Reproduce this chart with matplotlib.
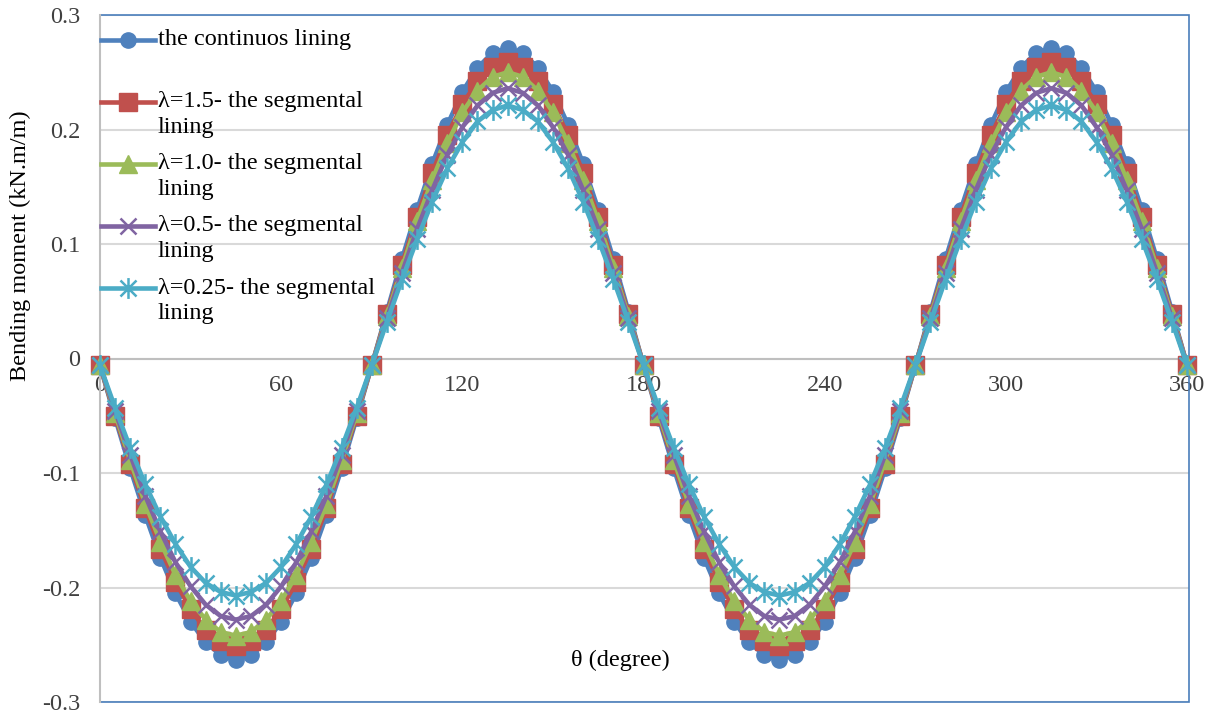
import numpy as np
import matplotlib
matplotlib.use('Agg')
import matplotlib.pyplot as plt
from matplotlib.path import Path
from matplotlib.lines import Line2D
from matplotlib.patches import Rectangle

# angle in degrees, one point every 5 degrees
theta = np.arange(0, 365, 5)

continuous = [-0.006, -0.052, -0.096, -0.137, -0.174, -0.205, -0.230, -0.248, -0.259, -0.263,
              -0.259, -0.248, -0.230, -0.205, -0.174, -0.137, -0.096, -0.052, -0.006,
              0.041, 0.087, 0.130, 0.170, 0.204, 0.233, 0.254, 0.267, 0.271,
              0.267, 0.254, 0.233, 0.204, 0.170, 0.130, 0.087, 0.041, -0.006,
              -0.052, -0.096, -0.137, -0.174, -0.205, -0.230, -0.248, -0.259, -0.263,
              -0.259, -0.248, -0.230, -0.205, -0.174, -0.137, -0.096, -0.052, -0.006,
              0.041, 0.087, 0.130, 0.170, 0.204, 0.233, 0.254, 0.267, 0.271,
              0.267, 0.254, 0.233, 0.204, 0.170, 0.130, 0.087, 0.041, -0.006]

seg_15 = [-0.006, -0.050, -0.092, -0.131, -0.166, -0.195, -0.219, -0.237, -0.247, -0.251,
          -0.247, -0.237, -0.219, -0.195, -0.166, -0.131, -0.092, -0.050, -0.006,
          0.039, 0.082, 0.124, 0.162, 0.195, 0.222, 0.242, 0.255, 0.259,
          0.255, 0.242, 0.222, 0.195, 0.162, 0.124, 0.082, 0.039, -0.006,
          -0.050, -0.092, -0.131, -0.166, -0.195, -0.219, -0.237, -0.247, -0.251,
          -0.247, -0.237, -0.219, -0.195, -0.166, -0.131, -0.092, -0.050, -0.006,
          0.039, 0.082, 0.124, 0.162, 0.195, 0.222, 0.242, 0.255, 0.259,
          0.255, 0.242, 0.222, 0.195, 0.162, 0.124, 0.082, 0.039, -0.006]

seg_10 = [-0.006, -0.048, -0.089, -0.127, -0.160, -0.189, -0.212, -0.228, -0.239, -0.242,
          -0.239, -0.228, -0.212, -0.189, -0.160, -0.127, -0.089, -0.048, -0.006,
          0.037, 0.079, 0.120, 0.156, 0.188, 0.215, 0.234, 0.246, 0.250,
          0.246, 0.234, 0.215, 0.188, 0.156, 0.120, 0.079, 0.037, -0.006,
          -0.048, -0.089, -0.127, -0.160, -0.189, -0.212, -0.228, -0.239, -0.242,
          -0.239, -0.228, -0.212, -0.189, -0.160, -0.127, -0.089, -0.048, -0.006,
          0.037, 0.079, 0.120, 0.156, 0.188, 0.215, 0.234, 0.246, 0.250,
          0.246, 0.234, 0.215, 0.188, 0.156, 0.120, 0.079, 0.037, -0.006]

seg_05 = [-0.006, -0.046, -0.084, -0.120, -0.151, -0.178, -0.199, -0.215, -0.225, -0.228,
          -0.225, -0.215, -0.199, -0.178, -0.151, -0.120, -0.084, -0.046, -0.006,
          0.035, 0.075, 0.113, 0.147, 0.178, 0.202, 0.221, 0.232, 0.236,
          0.232, 0.221, 0.202, 0.178, 0.147, 0.113, 0.075, 0.035, -0.006,
          -0.046, -0.084, -0.120, -0.151, -0.178, -0.199, -0.215, -0.225, -0.228,
          -0.225, -0.215, -0.199, -0.178, -0.151, -0.120, -0.084, -0.046, -0.006,
          0.035, 0.075, 0.113, 0.147, 0.178, 0.202, 0.221, 0.232, 0.236,
          0.232, 0.221, 0.202, 0.178, 0.147, 0.113, 0.075, 0.035, -0.006]

seg_025 = [-0.006, -0.043, -0.078, -0.110, -0.138, -0.162, -0.182, -0.196, -0.204, -0.207,
           -0.204, -0.196, -0.182, -0.162, -0.138, -0.110, -0.078, -0.043, -0.006,
           0.032, 0.069, 0.104, 0.137, 0.166, 0.189, 0.207, 0.217, 0.221,
           0.217, 0.207, 0.189, 0.166, 0.137, 0.104, 0.069, 0.032, -0.006,
           -0.043, -0.078, -0.110, -0.138, -0.162, -0.182, -0.196, -0.204, -0.207,
           -0.204, -0.196, -0.182, -0.162, -0.138, -0.110, -0.078, -0.043, -0.006,
           0.032, 0.069, 0.104, 0.137, 0.166, 0.189, 0.207, 0.217, 0.221,
           0.217, 0.207, 0.189, 0.166, 0.137, 0.104, 0.069, 0.032, -0.006]

labels = ['the continuos lining',
          'λ=1.5- the segmental\nlining',
          'λ=1.0- the segmental\nlining',
          'λ=0.5- the segmental\nlining',
          'λ=0.25- the segmental\nlining']

x_ticks = [0, 60, 120, 180, 240, 300, 360]
y_ticks = [-0.3, -0.2, -0.1, 0, 0.1, 0.2, 0.3]

# excel style star marker: x with a vertical bar
star = Path([(-1, -1), (1, 1), (-1, 1), (1, -1), (0, -1.3), (0, 1.3)],
            [Path.MOVETO, Path.LINETO, Path.MOVETO, Path.LINETO, Path.MOVETO, Path.LINETO])

styles = [
    dict(color='#4F81BD', marker='o', ms=11, mew=1),
    dict(color='#C0504D', marker='s', ms=13, mew=1),
    dict(color='#9BBB59', marker='^', ms=13, mew=1),
    dict(color='#8064A2', marker='x', ms=11, mew=1.8),
    dict(color='#4BACC6', marker=star, ms=15, mew=1.8),
]

plt.rcParams['font.family'] = ['Liberation Serif', 'DejaVu Serif']
FS = 17.5

W, H = 1216, 715
fig = plt.figure(figsize=(W / 100, H / 100), dpi=100)
ax = fig.add_axes([100 / W, 1 - 702 / H, (1189 - 100) / W, (702 - 15) / H])

series = [continuous, seg_15, seg_10, seg_05, seg_025]
for vals, st in zip(series, styles):
    ax.plot(theta, vals, color=st['color'], lw=3.3, marker=st['marker'],
            ms=st['ms'], mew=st['mew'], mec=st['color'], mfc=st['color'],
            solid_joinstyle='round', clip_on=False, zorder=3)

ax.set_xlim(0, 360.6)
ax.set_ylim(-0.3, 0.3)
ax.set_xticks(x_ticks)
ax.set_yticks(y_ticks)
ax.set_yticklabels(['-0.3', '-0.2', '-0.1', '0', '0.1', '0.2', '0.3'])
ax.yaxis.grid(True, color='#D9D9D9', lw=1.5)
ax.set_axisbelow(True)

for s in ['top', 'right']:
    ax.spines[s].set_visible(False)
ax.spines['bottom'].set_position(('data', 0))
ax.spines['bottom'].set_color('#BFBFBF')
ax.spines['bottom'].set_linewidth(1.5)
ax.spines['left'].set_color('#BFBFBF')
ax.spines['left'].set_linewidth(1.5)
ax.tick_params(length=0, labelsize=FS, colors='#404040')
ax.tick_params(axis='x', pad=12)
ax.tick_params(axis='y', pad=14)

# blue border of the plot area
ax.add_patch(Rectangle((0, 0), 1, 1, transform=ax.transAxes, fill=False,
                       ec='#4A7EBB', lw=1.2, zorder=1, clip_on=False))
ax.spines['left'].set_zorder(2)

fig.text(620 / W, 1 - 660 / H, 'θ (degree)', fontsize=FS, ha='center', va='center',
         color='#000000')
fig.text(20 / W, 1 - 246 / H, 'Bending moment (kN.m/m)', rotation=90,
         fontsize=FS, ha='center', va='center', color='#000000')

# legend drawn by hand so the key sits on the first text line
ys = [40, 102, 164, 226, 288]
for lab, st, y in zip(labels, styles, ys):
    fy = 1 - y / H
    fig.add_artist(Line2D([101 / W, 155 / W], [fy, fy], color=st['color'], lw=3.3,
                          transform=fig.transFigure))
    fig.add_artist(Line2D([128 / W], [fy], color=st['color'], marker=st['marker'],
                          ms=st['ms'], mew=st['mew'], mec=st['color'], mfc=st['color'],
                          transform=fig.transFigure))
    for j, line in enumerate(lab.split('\n')):
        fig.text(158 / W, 1 - (y + 26 * j) / H, line, fontsize=FS, ha='left',
                 va='center', color='#000000')

fig.savefig('out.png', dpi=100)
